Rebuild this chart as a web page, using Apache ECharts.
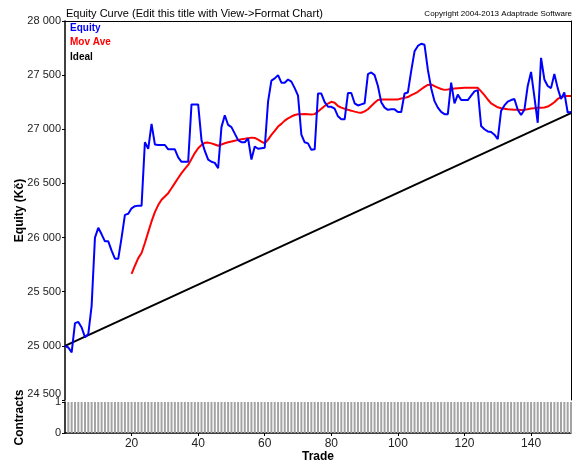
<!DOCTYPE html>
<html>
<head>
<meta charset="utf-8">
<title>Equity Curve</title>
<script src="https://cdn.jsdelivr.net/npm/echarts@6/dist/echarts.min.js"></script>
<style>
  html, body { margin: 0; padding: 0; background: #fff; }
  #chart { width: 579px; height: 467px; }
</style>
</head>
<body>
<div id="chart"></div>
<script>
// equity after each trade, trade 0..152
const equity = [
  25000, 24985, 24940, 25210, 25220, 25170, 25080, 25110, 25370, 26000,
  26090, 26030, 25965, 25965, 25880, 25805, 25805, 26000, 26210, 26220,
  26270, 26290, 26295, 26295, 26880, 26820, 27050, 26860, 26855, 26855,
  26855, 26815, 26815, 26815, 26740, 26700, 26700, 26700, 27230, 27230,
  27230, 26900, 26800, 26720, 26700, 26690, 26640, 27020, 27130, 27040,
  27020, 26960, 26900, 26880, 26880, 26915, 26720, 26840, 26820, 26825,
  26830, 27255, 27450, 27470, 27500, 27430, 27430, 27460, 27440, 27380,
  27310, 26950, 26880, 26870, 26810, 26815, 27330, 27330, 27250, 27208,
  27208, 27190, 27120, 27092, 27092, 27335, 27335, 27240, 27220, 27230,
  27240, 27510, 27525, 27500, 27400, 27250, 27200, 27180, 27184, 27184,
  27160, 27160, 27330, 27340, 27540, 27720, 27770, 27790, 27780, 27550,
  27380, 27260, 27200, 27160, 27140, 27140, 27430, 27240, 27320, 27270,
  27270, 27270, 27310, 27350, 27362, 27030, 27000, 26980, 26975, 26950,
  26910, 27170, 27220, 27255, 27270, 27280, 27180, 27132, 27180, 27400,
  27530, 27300, 27060, 27660, 27460, 27400, 27380, 27510, 27380, 27280,
  27340, 27155, 27160
];

// moving average, starts at trade 20
const maStart = 20;
const movAve = [
  25665, 25740, 25810, 25858, 25950, 26050, 26149, 26235, 26300, 26349,
  26380, 26410, 26455, 26503, 26550, 26595, 26635, 26671, 26725, 26780,
  26825, 26855, 26875, 26877, 26870, 26860, 26848, 26860, 26871, 26880,
  26888, 26895, 26902, 26908, 26912, 26918, 26923, 26920, 26905, 26886,
  26871, 26905, 26948, 26985, 27025, 27050, 27080, 27101, 27118, 27132,
  27138, 27140, 27141, 27139, 27137, 27140, 27165, 27190, 27215, 27238,
  27254, 27245, 27215, 27200, 27190, 27180, 27172, 27163, 27156, 27153,
  27165, 27185, 27215, 27245, 27270, 27274, 27276, 27276, 27276, 27276,
  27276, 27284, 27290, 27298, 27315, 27330, 27346, 27370, 27392, 27410,
  27414, 27398, 27385, 27372, 27364, 27368, 27373, 27377, 27380, 27382,
  27383, 27383, 27383, 27383, 27383, 27350, 27316, 27275, 27239, 27220,
  27203, 27195, 27190, 27185, 27183, 27181, 27180, 27178, 27180, 27186,
  27192, 27195, 27198, 27200, 27202, 27210, 27228, 27250, 27280, 27296,
  27307, 27307, 27307
];

// ideal straight line: [trade, equity]
const ideal = [[0, 25000], [152, 27150]];

// contracts per trade, trades 1..152
const contracts = [
  1,1,1,1,1,1,1,1,1,1, 1,1,1,1,1,1,1,1,1,1, 1,1,1,1,1,1,1,1,1,1,
  1,1,1,1,1,1,1,1,1,1, 1,1,1,1,1,1,1,1,1,1, 1,1,1,1,1,1,1,1,1,1,
  1,1,1,1,1,1,1,1,1,1, 1,1,1,1,1,1,1,1,1,1, 1,1,1,1,1,1,1,1,1,1,
  1,1,1,1,1,1,1,1,1,1, 1,1,1,1,1,1,1,1,1,1, 1,1,1,1,1,1,1,1,1,1,
  1,1,1,1,1,1,1,1,1,1, 1,1,1,1,1,1,1,1,1,1, 1,1,1,1,1,1,1,1,1,1,
  1,1
];

const font = 'Liberation Sans, Arial, sans-serif';
const fmt = v => String(v).replace(/\B(?=(\d{3})+(?!\d))/g, ' ');

const chart = echarts.init(document.getElementById('chart'));
chart.setOption({
  animation: false,
  textStyle: { fontFamily: font },
  title: [
    {
      text: 'Equity Curve (Edit this title with View->Format Chart)',
      left: 61, top: 3,
      textStyle: { fontSize: 11, fontWeight: 'normal', color: '#000', fontFamily: font }
    },
    {
      text: 'Copyright 2004-2013 Adaptrade Software',
      right: 2, top: 5,
      textStyle: { fontSize: 8, fontWeight: 'normal', color: '#000', fontFamily: font }
    }
  ],
  legend: {
    orient: 'vertical',
    left: 60, top: 16,
    itemWidth: 0, itemHeight: 0,
    itemGap: 1,
    icon: 'rect',
    selectedMode: false,
    textStyle: { fontSize: 10, fontWeight: 'bold', lineHeight: 13.5, fontFamily: font },
    data: [
      { name: 'Equity', textStyle: { color: '#0000ff' } },
      { name: 'Mov Ave', textStyle: { color: '#ff0000' } },
      { name: 'Ideal', textStyle: { color: '#000' } }
    ]
  },
  grid: [
    { left: 65, right: 8, top: 21, height: 379, outerBoundsMode: 'none', containLabel: false },
    { left: 65, right: 8, top: 402, height: 31, outerBoundsMode: 'none', containLabel: false }
  ],
  xAxis: [
    {
      gridIndex: 0, type: 'value', min: 0, max: 152, position: 'top',
      axisLine: { show: true, onZero: false, lineStyle: { color: '#000', width: 1 } },
      axisTick: { show: false }, axisLabel: { show: false }, splitLine: { show: false }
    },
    {
      gridIndex: 1, type: 'value', min: 0, max: 152, interval: 20,
      name: 'Trade', nameLocation: 'middle', nameGap: 18, nameMoveOverlap: false,
      nameTextStyle: { fontSize: 12, fontWeight: 'bold', color: '#000', fontFamily: font },
      axisLine: { onZero: false, lineStyle: { color: '#000', width: 1.5 } },
      axisTick: { length: 3, lineStyle: { color: '#000' } },
      axisLabel: { fontSize: 12, color: '#222', margin: 5, showMinLabel: false, showMaxLabel: false },
      splitLine: { show: false }
    }
  ],
  yAxis: [
    {
      gridIndex: 0, type: 'value', min: 24500, max: 28000, interval: 500,
      name: 'Equity (Kč)', nameLocation: 'middle', nameGap: 39, nameMoveOverlap: false,
      nameTextStyle: { fontSize: 12, fontWeight: 'bold', color: '#000', fontFamily: font },
      axisLine: { show: true, lineStyle: { color: '#000', width: 1.5 } },
      axisTick: { show: true, length: 3, lineStyle: { color: '#000' } },
      axisLabel: {
        fontSize: 11, color: '#222', margin: 4,
        formatter: v => (v === 24500 ? '{lo|' + fmt(v) + '}' : fmt(v)),
        rich: { lo: { fontSize: 11, color: '#222', padding: [0, 0, 13, 0] } }
      },
      splitLine: { show: false }
    },
    {
      gridIndex: 0, type: 'value', min: 24500, max: 28000, position: 'right',
      axisLine: { show: true, lineStyle: { color: '#000', width: 1 } },
      axisTick: { show: false }, axisLabel: { show: false }, splitLine: { show: false }
    },
    {
      gridIndex: 1, type: 'value', min: 0, max: 1, interval: 1,
      name: 'Contracts', nameLocation: 'middle', nameGap: 39, nameMoveOverlap: false,
      nameTextStyle: { fontSize: 12, fontWeight: 'bold', color: '#000', fontFamily: font },
      axisLine: { show: true, lineStyle: { color: '#000', width: 1.5 } },
      axisTick: { show: true, length: 3, lineStyle: { color: '#000' } },
      axisLabel: { fontSize: 11, color: '#222', margin: 4, showMinLabel: true, showMaxLabel: true },
      splitLine: { show: false }
    }
  ],
  series: [
    {
      name: 'Ideal', type: 'line', xAxisIndex: 0, yAxisIndex: 0,
      data: ideal, symbol: 'none',
      lineStyle: { color: '#000', width: 2 }, itemStyle: { color: '#000' }
    },
    {
      name: 'Mov Ave', type: 'line', xAxisIndex: 0, yAxisIndex: 0,
      data: movAve.map((v, i) => [maStart + i, v]), symbol: 'none',
      lineStyle: { color: '#ff0000', width: 2 }, itemStyle: { color: '#ff0000' }
    },
    {
      name: 'Equity', type: 'line', xAxisIndex: 0, yAxisIndex: 0,
      data: equity.map((v, i) => [i, v]), symbol: 'none',
      lineStyle: { color: '#0000ff', width: 2 }, itemStyle: { color: '#0000ff' }
    },
    {
      name: 'Contracts', type: 'bar', xAxisIndex: 1, yAxisIndex: 2,
      data: contracts.map((v, i) => [i + 1, v]),
      barWidth: 2, itemStyle: { color: '#a3a3a3' }
    }
  ]
});
</script>
</body>
</html>
